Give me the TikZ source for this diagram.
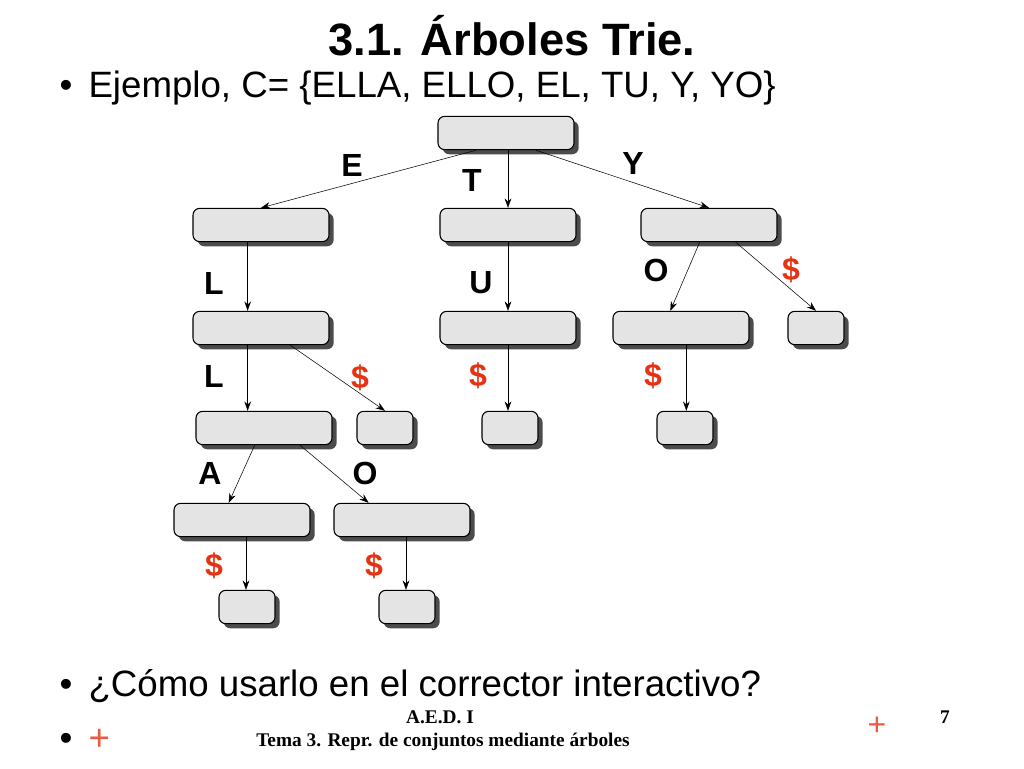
\documentclass[tikz,border=0pt]{standalone}
\usepackage{fontspec}
\setmainfont{Liberation Sans}
\newfontfamily\footfont{Liberation Serif}
\usetikzlibrary{arrows.meta, shadows}
\definecolor{dollarred}{RGB}{230,50,20}
\definecolor{boxgray}{RGB}{228,228,228}
\begin{document}
\begin{tikzpicture}[
        x=0.75pt, y=-0.75pt,
        caja/.style = {rectangle, rounded corners=5pt, draw, thick, fill=boxgray,
                       minimum width=102pt, minimum height=25pt,
                       drop shadow={shadow xshift=3.5pt, shadow yshift=-3.5pt, fill=black!70, opacity=1}},
        hoja/.style = {caja, minimum width=42pt},
        pil/.style = {black, thin, -{Stealth[length=7pt,width=5pt]}},
        let/.style = {font=\fontsize{24}{26}\selectfont\bfseries},
        dol/.style = {let, text=dollarred},
        ]
        \useasboundingbox (0,0) rectangle (1024,768);
        % titulo y texto
        \node (titulo) at (512,36) {\fontsize{34}{36}\selectfont\bfseries 3.1. Árboles Trie.};
        \node[anchor=west] (ej) at (55,88) {\fontsize{27.5}{30}\selectfont •\hspace{12pt}Ejemplo, C= \{ELLA, ELLO, EL, TU, Y, YO\}};
        \node[anchor=west] (uso) at (55,686) {\fontsize{27.5}{30}\selectfont •\hspace{12pt}¿Cómo usarlo en el corrector interactivo?};
        \node[anchor=west] (mas) at (55,740) {\fontsize{27.5}{30}\selectfont •\hspace{12pt}\textcolor{dollarred!80}{+}};
        \node (aed) at (440,717) {\footfont\fontsize{14.5}{16}\selectfont\bfseries A.E.D. I};
        \node (tema) at (443,742) {\footfont\fontsize{14.5}{16}\selectfont\bfseries Tema 3. Repr. de conjuntos mediante árboles};
        \node (mas2) at (877,726) {\fontsize{24}{26}\selectfont\textcolor{dollarred!80}{+}};
        \node (pag) at (945,717) {\footfont\fontsize{14.5}{16}\selectfont\bfseries 7};
        % nodos del trie
        \node[caja] (raiz) at (506,133) {};
        \node[caja] (e) at (261,225) {};
        \node[caja] (t) at (508,225) {};
        \node[caja] (y) at (709,225) {};
        \node[caja] (el) at (261,328) {};
        \node[caja] (tu) at (508,328) {};
        \node[caja] (yo) at (681,328) {};
        \node[hoja] (yf) at (816,328) {};
        \node[caja] (ell) at (264,428) {};
        \node[hoja] (elf) at (385,428) {};
        \node[hoja] (tuf) at (510,428) {};
        \node[hoja] (yof) at (685,428) {};
        \node[caja] (ella) at (242,520) {};
        \node[caja] (ello) at (402,520) {};
        \node[hoja] (ellaf) at (247,607) {};
        \node[hoja] (ellof) at (407,607) {};
        % etiquetas
        \node[let] at (352,165) {E};
        \node[let] at (472,180) {T};
        \node[let] at (633,163) {Y};
        \node[let] at (214,283) {L};
        \node[let] at (481,283) {U};
        \node[let] at (656,270) {O};
        \node[dol] at (791,270) {\$};
        \node[let] at (214,376) {L};
        \node[dol] at (360,378) {\$};
        \node[dol] at (478,376) {\$};
        \node[dol] at (653,376) {\$};
        \node[let] at (210,473) {A};
        \node[let] at (365,473) {O};
        \node[dol] at (214,566) {\$};
        \node[dol] at (374,566) {\$};

        \draw[pil] (raiz.210) -- (e.north);
        \draw[pil] (raiz.south -| t) -- (t.north);
        \draw[pil] (raiz.330) -- (y.north);
        \draw[pil] ([xshift=-10pt]e.south) -- ([xshift=-10pt]el.north);
        \draw[pil] (t.south) -- (tu.north);
        \draw[pil] ([xshift=-7pt]y.south) -- ([xshift=-8pt]yo.north);
        \draw[pil] ([xshift=20pt]y.south) -- (yf.north);
        \draw[pil] ([xshift=-10pt]el.south) -- ([xshift=-10pt]el.south |- ell.north);
        \draw[pil] ([xshift=22pt]el.south) -- (elf.north);
        \draw[pil] (tu.south) -- (tu.south |- tuf.north);
        \draw[pil] ([xshift=4pt]yo.south) -- ([xshift=4pt]yo.south |- yof.north);
        \draw[pil] ([xshift=-7pt]ell.south) -- ([xshift=-10pt]ella.north);
        \draw[pil] ([xshift=27pt]ell.south) -- ([xshift=-25pt]ello.north);
        \draw[pil] ([xshift=3pt]ella.south) -- ([xshift=3pt]ella.south |- ellaf.north);
        \draw[pil] ([xshift=3pt]ello.south) -- ([xshift=3pt]ello.south |- ellof.north);
      \end{tikzpicture}
\end{document}
